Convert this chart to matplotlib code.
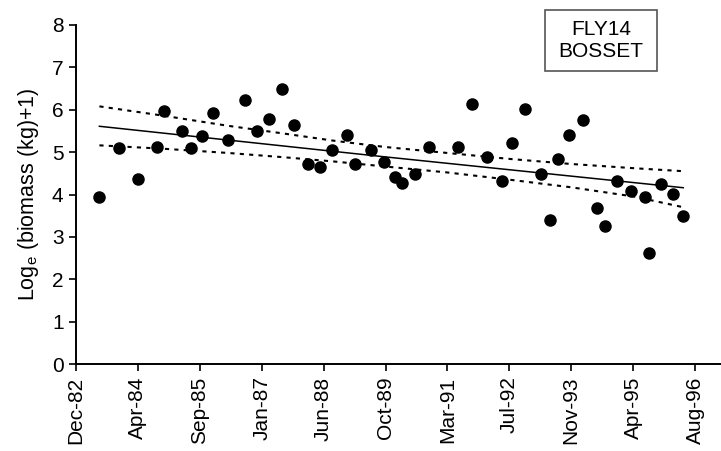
import matplotlib
matplotlib.use("Agg")
from matplotlib import pyplot as plt
from matplotlib.patches import Rectangle

# sample dates as days after the first axis tick (Dec-82), values = log_e(biomass+1)
days = [189, 350, 504, 652, 709, 860, 930, 1021, 1107, 1231, 1366, 1463, 1555, 1668,
        1762, 1873, 1967, 2064, 2185, 2255, 2379, 2490, 2580, 2635, 2740, 2855, 3085,
        3195, 3320, 3445, 3525, 3630, 3755, 3825, 3895, 3985, 4095, 4205, 4275, 4370,
        4480, 4600, 4630, 4725, 4820, 4905]
biomass = [3.93, 5.09, 4.37, 5.13, 5.97, 5.49, 5.09, 5.37, 5.93, 5.28, 6.24, 5.49, 5.77, 6.49,
           5.65, 4.72, 4.65, 5.05, 5.41, 4.73, 5.06, 4.77, 4.41, 4.28, 4.49, 5.13, 5.13,
           6.13, 4.89, 4.33, 5.21, 6.01, 4.49, 3.41, 4.84, 5.41, 5.76, 3.69, 3.25, 4.33,
           4.09, 3.93, 2.61, 4.25, 4.01, 3.49]

# trend line and its confidence limits
trend_days = [189, 2490, 4905]
trend = [5.61, 4.89, 4.16]
band_days = [189, 705, 1231, 1675, 2080, 2500, 3000, 3500, 4000, 4510, 4905]
upper = [6.08, 5.86, 5.62, 5.44, 5.27, 5.12, 4.98, 4.84, 4.72, 4.62, 4.55]
lower = [5.16, 5.08, 4.98, 4.88, 4.78, 4.66, 4.52, 4.35, 4.17, 3.95, 3.70]

tick_labels = ['Dec-82', 'Apr-84', 'Sep-85', 'Jan-87', 'Jun-88', 'Oct-89',
               'Mar-91', 'Jul-92', 'Nov-93', 'Apr-95', 'Aug-96']

plt.rcParams['font.family'] = ['Liberation Sans', 'DejaVu Sans']

fig = plt.figure(figsize=(7.21, 4.51), dpi=100)
ax = fig.add_axes([76/721, 1-364/451, 1-76/721, (364-25)/451])

ax.plot(band_days, upper, color='black', lw=1.5, ls=(0, (2, 2.5)))
ax.plot(band_days, lower, color='black', lw=1.5, ls=(0, (2, 2.5)))
ax.plot(trend_days, trend, color='black', lw=1.1)
ax.scatter(days, biomass, s=64, color='black', zorder=3)

ax.set_xlim(0, 5210)
ax.set_ylim(0, 8)
ax.set_xticks([i*500 for i in range(len(tick_labels))])
ax.set_xticklabels(tick_labels, rotation=90)
ax.set_yticks(range(9))

for s in ['top', 'right']:
    ax.spines[s].set_visible(False)
for s in ['left', 'bottom']:
    ax.spines[s].set_linewidth(1.4)
ax.tick_params(direction='out', length=5, width=1.2, labelsize=15, pad=4)

ax.set_ylabel('Log$_\\mathregular{e}$ (biomass (kg)+1)', fontsize=15.5, labelpad=8)

# site label box
fig.patches.append(Rectangle((545/721, 1-71/451), 112/721, 61/451, transform=fig.transFigure,
                             fc='white', ec='#555555', lw=1.2))
fig.text(601/721, 1-40.5/451, 'FLY14\nBOSSET', ha='center', va='center',
         fontsize=15, linespacing=1.15)

fig.savefig('out.png', dpi=100)
